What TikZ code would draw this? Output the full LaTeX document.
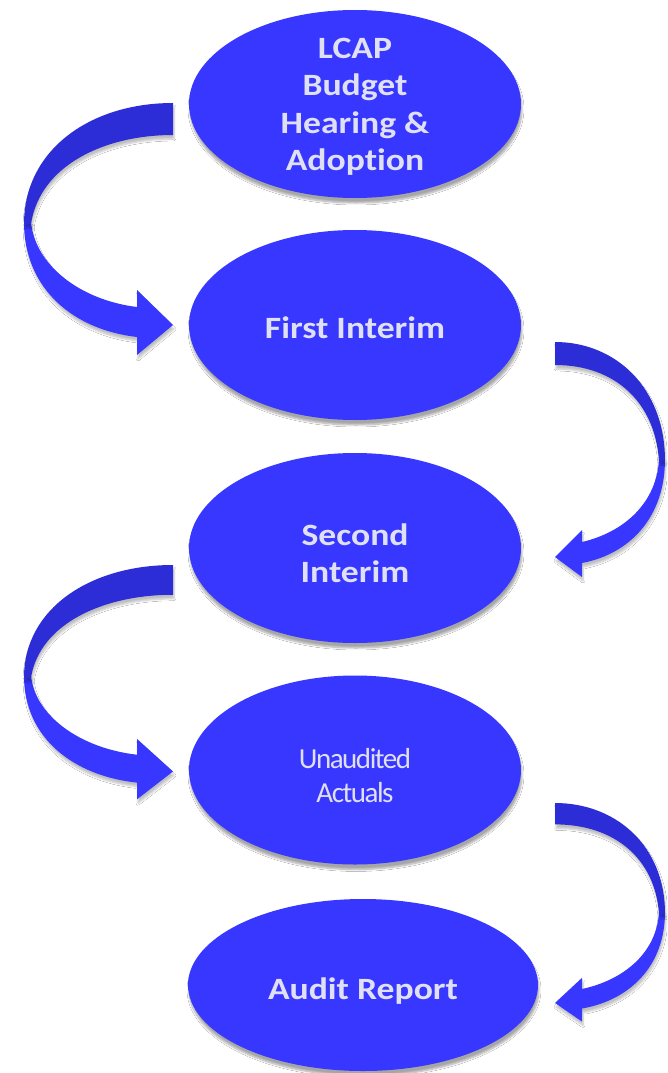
\documentclass[tikz,border=0pt]{standalone}
\usepackage{fontspec}
\setmainfont{Carlito}
\newfontfamily\lblfont{Carlito}[FakeStretch=1.15, Ligatures=NoCommon]
\newfontfamily\tightfont{Carlito}[LetterSpace=-5, Ligatures=NoCommon]
\usetikzlibrary{shapes.geometric,shadows.blur}
\definecolor{ellblue}{HTML}{3737FF}
\definecolor{darkblue}{HTML}{2D2DD7}
\definecolor{txtcol}{HTML}{E0E0F4}
\begin{document}
\begin{tikzpicture}[x=1pt,y=-1pt,
  stage/.style={ellipse, fill=ellblue, inner sep=0pt,
    blur shadow={shadow xshift=1pt, shadow yshift=-5pt, shadow blur steps=8, shadow opacity=35}},
  lbl/.style={text=txtcol, align=center, inner sep=0pt,
    font=\lblfont\bfseries\fontsize{31}{37.5}\selectfont},
  thinlbl/.style={text=txtcol, align=center, inner sep=0pt,
    font=\tightfont\fontsize{29}{34}\selectfont},
  ribdark/.style={fill=darkblue,
    blur shadow={shadow xshift=1pt, shadow yshift=-4pt, shadow blur steps=6, shadow opacity=25}},
  riblight/.style={fill=ellblue,
    blur shadow={shadow xshift=1pt, shadow yshift=-4pt, shadow blur steps=6, shadow opacity=25}}]
\useasboundingbox (0,0) rectangle (667,1073);
\fill[white] (0,0) rectangle (667,1073);

% ellipses
\node[stage, minimum width=332pt, minimum height=188pt] (e1) at (355,104) {};
\node[stage, minimum width=332pt, minimum height=190pt] (e2) at (355,325) {};
\node[stage, minimum width=332pt, minimum height=190pt] (e3) at (355,548) {};
\node[stage, minimum width=332pt, minimum height=189pt] (e4) at (355,770) {};
\node[stage, minimum width=350pt, minimum height=172pt] (e5) at (363,985) {};

% labels
\node[lbl] (t1) at ([yshift=-3pt]e1.center) {LCAP\\Budget\\Hearing \&\\Adoption};
\node[lbl] (t2) at ([yshift=-3pt]e2.center) {First Interim};
\node[lbl] (t3) at ([yshift=-5pt]e3.center) {Second\\Interim};
\node[thinlbl] (t4) at ([yshift=-6pt]e4.center) {Unaudited\\Actuals};
\node[lbl] (t5) at ([yshift=-6pt]e5.center) {Audit Report};

% left curved arrows (from left of one stage to left of the next)
\foreach \yy/\ys in {103/1, 565/0.93} {
  \begin{scope}[shift={(0,\yy)}, yscale=\ys]
    \path[riblight] (24,119) .. controls (24,187) and (75,227) .. (137,234)
      -- (137,252) -- (173,222) -- (137,187) -- (137,204)
      .. controls (80,197) and (35,162) .. (31,119) -- cycle;
    \path[ribdark] (173,0) -- (173,32) .. controls (105,32) and (40,62) .. (31,121)
      -- (24,121) .. controls (24,47) and (90,0) .. (173,0) -- cycle;
  \end{scope}
}
% right curved arrows
\foreach \yy/\ys in {342/1, 803/0.93} {
  \begin{scope}[shift={(0,\yy)}, yscale=\ys]
    \path[riblight] (665,117) .. controls (665,175) and (630,212) .. (582,221)
      -- (582,235) -- (555,215) -- (582,188) -- (582,200)
      .. controls (625,190) and (657,160) .. (659,117) -- cycle;
    \path[ribdark] (555,0) -- (555,23) .. controls (615,23) and (655,60) .. (659,119)
      -- (665,119) .. controls (665,45) and (615,0) .. (555,0) -- cycle;
  \end{scope}
}
\end{tikzpicture}
\end{document}
